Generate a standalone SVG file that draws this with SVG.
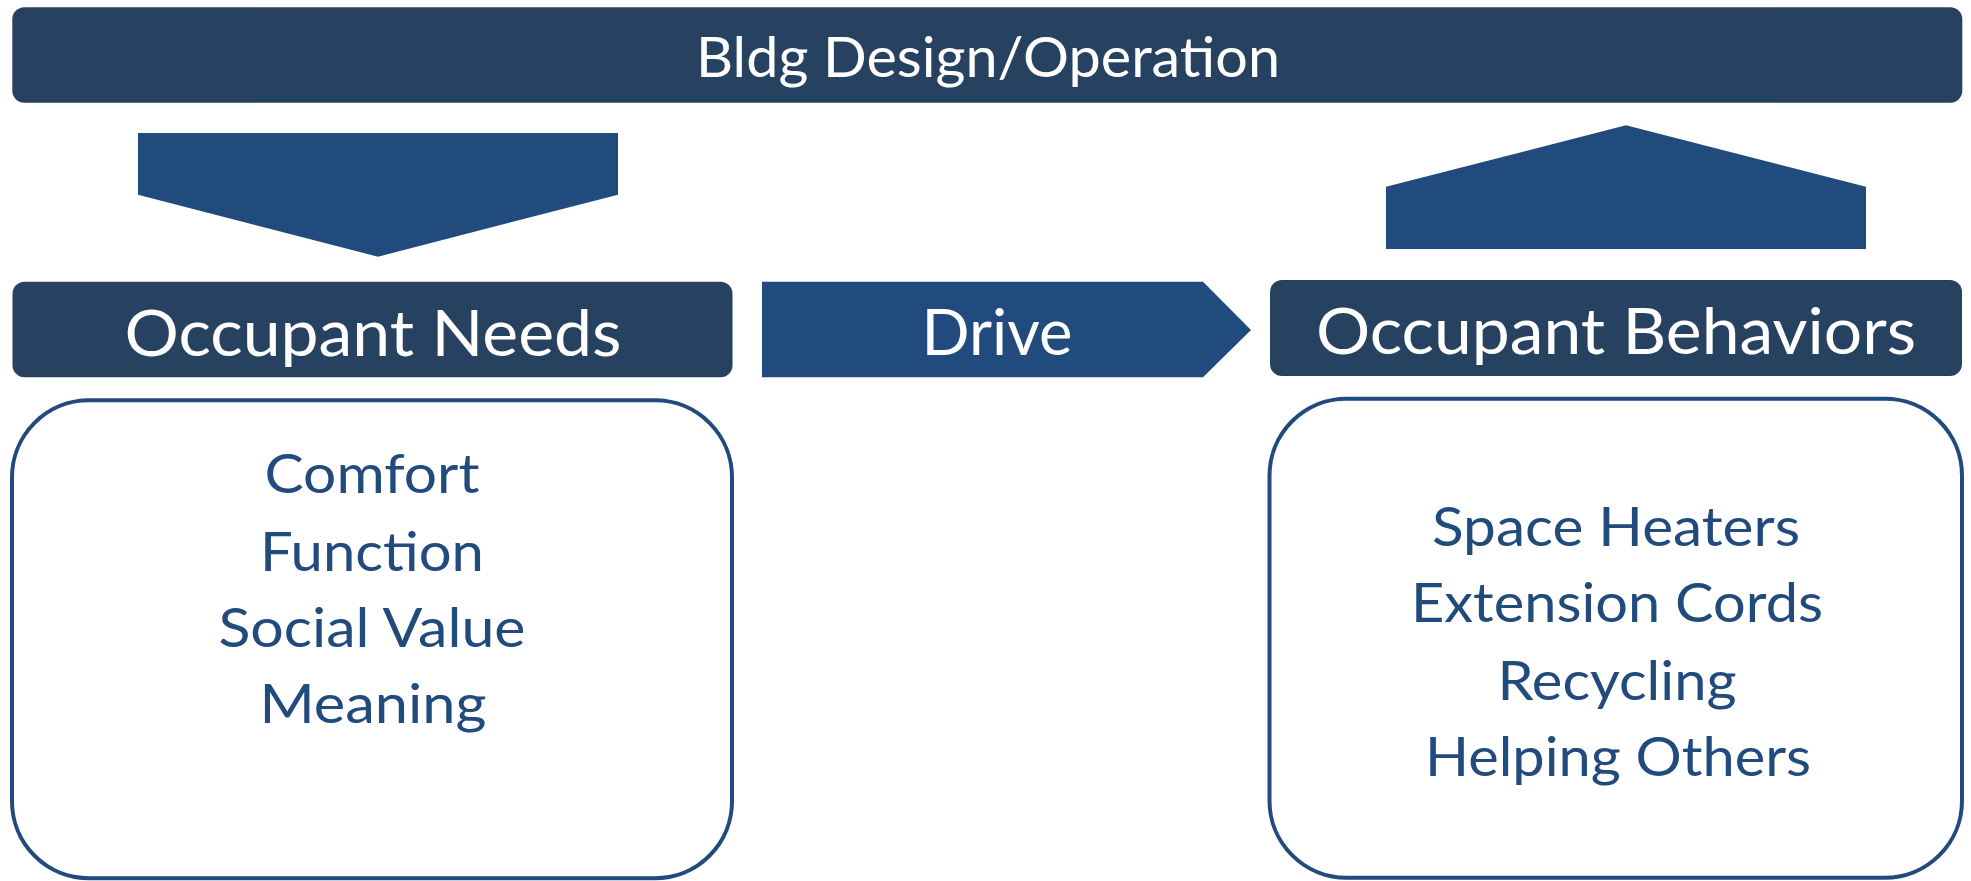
<svg xmlns="http://www.w3.org/2000/svg" width="1971" height="881" viewBox="0 0 1971 881">
  <style>
    .bar { fill: #274160; }
    .arrow { fill: #214A7D; }
    .panel { fill: #FFFFFF; stroke: #214A7D; stroke-width: 4; }
    .head { font-family: Lato, "Liberation Sans", sans-serif; fill: #FFFFFF; text-anchor: middle; }
    .item { font-family: Lato, "Liberation Sans", sans-serif; fill: #214A7D; text-anchor: middle; font-size: 54px; }
  </style>
  <rect width="1971" height="881" fill="#FFFFFF"/>

  <!-- top banner -->
  <g id="bldg">
    <rect class="bar" x="12.3" y="7.3" width="1950" height="95.4" rx="12"/>
    <text class="head" x="988" y="76.5" font-size="56" textLength="584" lengthAdjust="spacingAndGlyphs">Bldg Design/Operation</text>
  </g>

  <!-- arrows between the blocks -->
  <g id="connectors">
    <polygon class="arrow" points="138,133 618,133 618,194.7 378,256.7 138,194.7"/>
    <polygon class="arrow" points="1386,249 1386,186.7 1626,125.3 1866,186.7 1866,249"/>
    <g id="drive">
      <polygon class="arrow" points="762,281.7 1203,281.7 1251,330 1203,377.3 762,377.3"/>
      <text class="head" x="997" y="355" font-size="64" textLength="151" lengthAdjust="spacingAndGlyphs">Drive</text>
    </g>
  </g>

  <!-- left column -->
  <g id="needs">
    <rect class="bar" x="12.5" y="281.7" width="720" height="95.6" rx="12"/>
    <text class="head" x="373" y="356" font-size="64" textLength="497" lengthAdjust="spacingAndGlyphs">Occupant Needs</text>
  </g>
  <g id="needs-list">
    <rect class="panel" x="12" y="400.3" width="720" height="478" rx="77"/>
    <text class="item" x="372" y="493.3" textLength="215" lengthAdjust="spacingAndGlyphs">Comfort</text>
    <text class="item" x="372" y="570.7" textLength="224" lengthAdjust="spacingAndGlyphs">Function</text>
    <text class="item" x="372" y="646.7" textLength="307" lengthAdjust="spacingAndGlyphs">Social Value</text>
    <text class="item" x="373" y="723.3" textLength="227" lengthAdjust="spacingAndGlyphs">Meaning</text>
  </g>

  <!-- right column -->
  <g id="behaviors">
    <rect class="bar" x="1270" y="280" width="692" height="96" rx="12"/>
    <text class="head" x="1616" y="354" font-size="64" textLength="600" lengthAdjust="spacingAndGlyphs">Occupant Behaviors</text>
  </g>
  <g id="behaviors-list">
    <rect class="panel" x="1269.5" y="398.7" width="692.5" height="479" rx="77"/>
    <text class="item" x="1616" y="545.7" textLength="368" lengthAdjust="spacingAndGlyphs">Space Heaters</text>
    <text class="item" x="1617" y="622.3" textLength="412" lengthAdjust="spacingAndGlyphs">Extension Cords</text>
    <text class="item" x="1617" y="700" textLength="239" lengthAdjust="spacingAndGlyphs">Recycling</text>
    <text class="item" x="1618" y="776" textLength="386" lengthAdjust="spacingAndGlyphs">Helping Others</text>
  </g>
</svg>
